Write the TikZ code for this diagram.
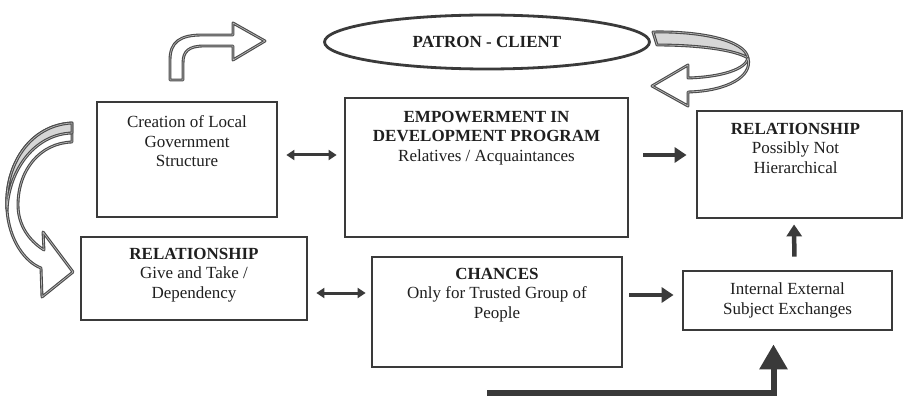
\documentclass[tikz,border=0pt]{standalone}
\usepackage{fontspec}
\setmainfont{Liberation Serif}
\usetikzlibrary{arrows.meta,calc,shapes.geometric}
\definecolor{ink}{HTML}{3A3A3A}
\definecolor{rib}{HTML}{4A4A4A}
\definecolor{ribfill}{HTML}{D6D6D6}
\begin{document}
\begin{tikzpicture}[x=1pt,y=-1pt,
  box/.style={draw=ink,line width=2.8pt,fill=white,inner sep=0pt},
  txt/.style={align=center,anchor=north,inner sep=0pt,text=black!88,
    font=\fontsize{17}{19.5}\selectfont},
  fat/.style={draw=ink,line width=4.5pt,-{Triangle[length=12pt,width=15pt]}},
  dbl/.style={draw=ink,line width=3pt,
    {Triangle[length=8pt,width=10pt]}-{Triangle[length=8pt,width=10pt]}},
  ribbon/.style={draw=rib,line width=1.1pt,double=gray!55,double distance=0.7pt,
    line join=round,fill=white},
  ribback/.style={ribbon,fill=ribfill}
]
\useasboundingbox (0,0) rectangle (908,398);

% ---- patron-client ellipse
\node[draw=ink,line width=2.8pt,ellipse,minimum width=325pt,minimum height=54pt,
  font=\fontsize{17}{19.5}\selectfont\bfseries,text=black!88] (P) at (487,42) {PATRON - CLIENT};

% ---- boxes
\node[box,minimum width=180pt,minimum height=115pt] (A) at (187,159.5) {};
\node[box,minimum width=283pt,minimum height=139pt] (B) at (486.5,167.5) {};
\node[box,minimum width=205pt,minimum height=107pt] (C) at (799.5,164.5) {};
\node[box,minimum width=226pt,minimum height=83pt] (D) at (194,278.5) {};
\node[box,minimum width=250pt,minimum height=110pt] (E) at (497,312) {};
\node[box,minimum width=209pt,minimum height=59pt,align=center,text=black!88,
  font=\fontsize{17}{19.5}\selectfont] (F) at (787.5,300.5)
  {Internal External\\Subject Exchanges};

% ---- box texts
\node[txt] (At) at ($(A.north)+(0,15)$) {Creation of Local\\Government\\Structure};
\node[txt] (Bt) at ($(B.north)+(0,14)$) {\textbf{EMPOWERMENT IN}\\\textbf{DEVELOPMENT PROGRAM}\\Relatives / Acquaintances};
\node[txt] (Ct) at ($(C.north)+(-4,13)$) {\textbf{RELATIONSHIP}\\Possibly Not\\Hierarchical};
\node[txt] (Dt) at ($(D.north)+(0,12)$) {\textbf{RELATIONSHIP}\\Give and Take /\\Dependency};
\node[txt] (Et) at ($(E.north)+(0,12)$) {\textbf{CHANCES}\\Only for Trusted Group of\\People};

% ---- straight connectors
\coordinate (rowA) at (0,155);
\coordinate (rowD) at (0,293);
\coordinate (rowE) at (0,295);
\coordinate (lstart) at (487,393);

\draw[dbl,shorten <=8pt,shorten >=7pt] (A.east |- rowA) -- (B.west |- rowA);
\draw[fat,shorten <=14pt,shorten >=9pt] (B.east |- rowA) -- (C.west |- rowA);
\draw[dbl,shorten <=8pt,shorten >=5pt] (D.east |- rowD) -- (E.west |- rowD);
\draw[fat,shorten <=6pt,shorten >=8pt] (E.east |- rowE) -- (F.west |- rowE);
\draw[fat,shorten <=13pt,shorten >=5pt] ($(F.north)+(7,0)$) -- ($(C.south)+(-5.5,0)$);
\draw[draw=ink,line width=6pt,-{Triangle[length=25pt,width=27pt]}]
  (lstart) -| ($(F.south)+(-14,13)$);

% ---- bent arrow above the local government box
\path[ribbon] (170,80) -- (170,60) .. controls (170,42) and (180,35) .. (202,35)
  -- (233,35) -- (233,23) -- (265,41) -- (233,60) -- (233,46) -- (204,46)
  .. controls (189,46) and (183,51) .. (183,63) -- (183,80) -- cycle;

% ---- curling arrow returning from the ellipse
\path[ribback] (653,32) .. controls (700,31) and (745,40) .. (748,58)
  .. controls (735,50) and (700,45) .. (657,45) -- cycle;
\path[ribbon] (748,58) .. controls (746,69) and (722,77) .. (688,78)
  -- (688,65) -- (652,86) -- (688,106) -- (688,92)
  .. controls (728,91) and (753,76) .. (748,58) -- cycle;

% ---- sweeping arrow on the left
\path[ribbon] (72,123) .. controls (30,125) and (4,165) .. (7,210)
  .. controls (9,240) and (25,262) .. (41,268) -- (42,297) -- (73,272)
  -- (43,232) -- (44,250) .. controls (28,240) and (18,224) .. (18,205)
  .. controls (18,170) and (40,143) .. (72,142) -- cycle;
\path[ribback] (72,123) .. controls (30,125) and (4,165) .. (7,210)
  .. controls (9,168) and (36,134) .. (72,133) -- cycle;
\end{tikzpicture}
\end{document}
